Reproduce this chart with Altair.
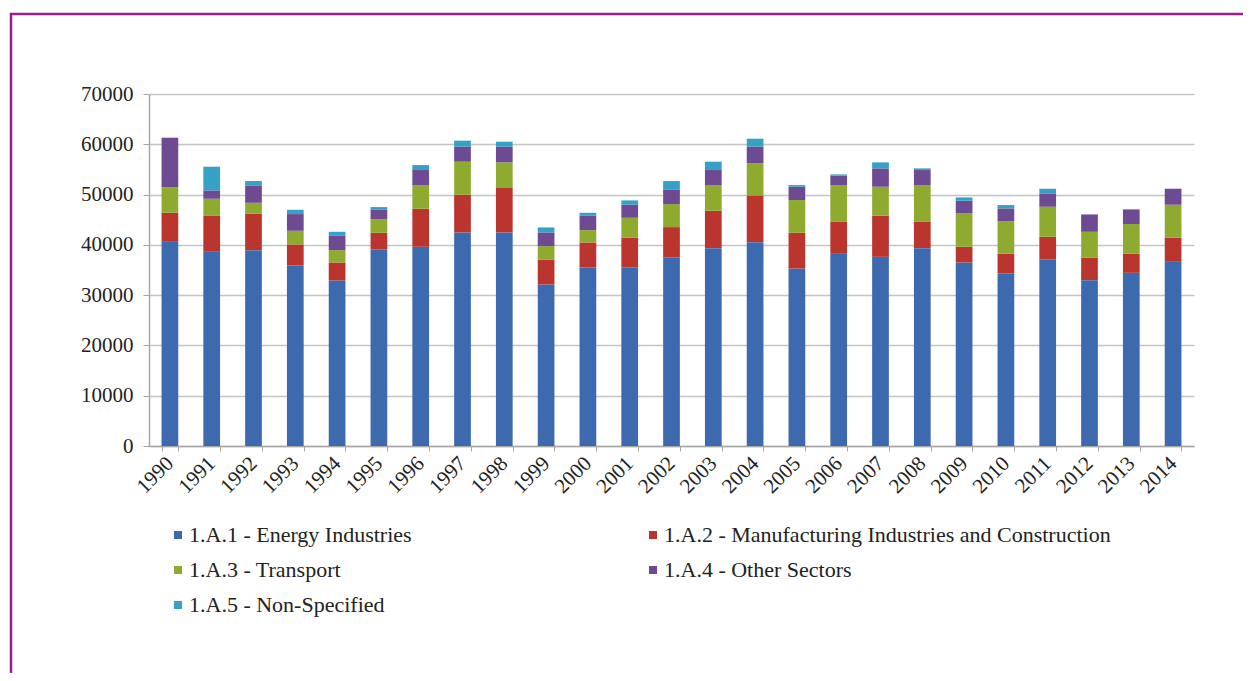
import altair as alt
import pandas as pd

years = [str(y) for y in range(1990, 2015)]
series = [
    "1.A.1 - Energy Industries",
    "1.A.2 - Manufacturing Industries and Construction",
    "1.A.3 - Transport",
    "1.A.4 - Other Sectors",
    "1.A.5 - Non-Specified",
]
energy = [40600, 38620, 38950, 35900, 32910, 39150, 39620, 42470, 42470, 32120,
          35500, 35500, 37490, 39350, 40540, 35300, 38220, 37620, 39350, 36500,
          34310, 37090, 32980, 34440, 36630]
manufacturing = [5780, 7230, 7230, 4180, 3590, 3250, 7560, 7500, 8960, 4910,
                 4980, 5910, 6040, 7430, 9290, 7100, 6440, 8170, 5310, 3120,
                 3910, 4520, 4450, 3780, 4780]
transport = [5050, 3320, 2190, 2720, 2450, 2660, 4640, 6570, 4970, 2720,
             2450, 3980, 4580, 5040, 6370, 6510, 7160, 5770, 7160, 6630,
             6440, 5970, 5170, 5910, 6570]
other = [9880, 1660, 3450, 3320, 2920, 1990, 3060, 2980, 3120, 2720,
         2920, 2590, 2920, 3060, 3320, 2650, 1930, 3650, 3060, 2520,
         2590, 2650, 3450, 2920, 3180]
nonspec = [0, 4710, 870, 860, 730, 460, 990, 1200, 1000, 990,
           530, 860, 1660, 1660, 1590, 330, 260, 1190, 330, 660,
           660, 930, 0, 0, 0]
colors = ["#3d69af", "#b9352e", "#8eab30", "#6e4a92", "#36a0c5"]

rows = []
for i, y in enumerate(years):
    for k, vals in enumerate([energy, manufacturing, transport, other, nonspec]):
        rows.append({"year": y, "sector": series[k], "value": vals[i], "order": k})
df = pd.DataFrame(rows)

FONT = "Liberation Serif, Times New Roman, serif"

bars = alt.Chart(df).mark_bar().encode(
    x=alt.X("year:N", title=None, sort=years,
            scale=alt.Scale(paddingInner=0.6, paddingOuter=0.3),
            axis=alt.Axis(labelAngle=-45, labelAlign="right", labelBaseline="middle",
                          labelFont=FONT, labelFontSize=21, labelColor="#222222",
                          labelPadding=9, tickBand="extent", tickSize=5,
                          tickColor="#a6a6a6", domainColor="#a6a6a6", domainWidth=1.5,
                          grid=False)),
    y=alt.Y("value:Q", title=None, stack="zero",
            scale=alt.Scale(domain=[0, 70000], nice=False),
            axis=alt.Axis(values=list(range(0, 70001, 10000)), format="d",
                          labelFont=FONT, labelFontSize=21, labelColor="#222222",
                          labelPadding=10, tickSize=6, tickColor="#a6a6a6",
                          domainColor="#a6a6a6", domainWidth=1.5,
                          gridColor="#c4c4c4", gridWidth=1.5)),
    color=alt.Color("sector:N", sort=series,
                    scale=alt.Scale(domain=series, range=colors),
                    legend=alt.Legend(title=None, orient="none", legendX=18, legendY=430,
                                      columns=2, columnPadding=230, rowPadding=13,
                                      direction="horizontal",
                                      symbolType="square", symbolSize=64, symbolStrokeWidth=0,
                                      labelFont=FONT, labelFontSize=22, labelColor="#222222",
                                      labelLimit=700, labelOffset=0)),
    order=alt.Order("order:Q", sort="ascending"),
)

frame = alt.Chart(pd.DataFrame({"a": [0]})).mark_rect(
    fillOpacity=0, stroke="#9e1f8c", strokeWidth=2.5
).encode(x=alt.value(-138), x2=alt.value(1300), y=alt.value(-80), y2=alt.value(900))

chart = alt.layer(frame, bars).properties(
    width=1045, height=352,
    autosize=alt.AutoSizeParams(type="none"),
    padding={"left": 141, "top": 86, "right": 49, "bottom": 227},
).configure_view(stroke=None)

chart.save("out.html", embed_options={"renderer": "svg", "actions": False})
